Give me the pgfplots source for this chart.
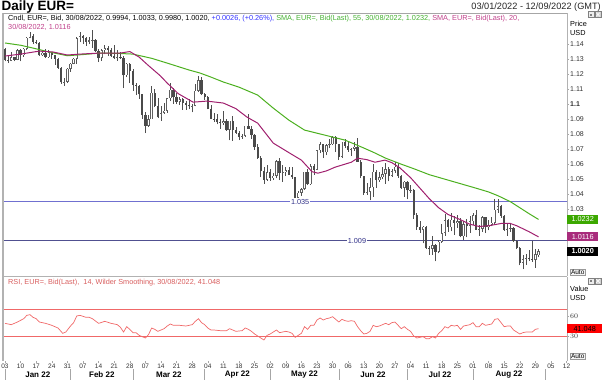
\documentclass[border=0pt]{standalone}
\usepackage{pgfplots}
\usepackage{pgfplotstable}
\pgfplotsset{compat=1.18}
\usepackage{fontspec}
\setmainfont{Liberation Sans}
\definecolor{wick}{HTML}{505050}
\definecolor{downbody}{HTML}{4A4A4A}
\definecolor{upedge}{HTML}{606060}
\definecolor{smagreen}{HTML}{4CB020}
\definecolor{smamag}{HTML}{A0206E}
\definecolor{hdrgreen}{HTML}{44B030}
\definecolor{hdrmag}{HTML}{C0408A}
\definecolor{hdrblue}{HTML}{3030FF}
\definecolor{lineA}{HTML}{7070D0}
\definecolor{lineB}{HTML}{505090}
\definecolor{labblue}{HTML}{303088}
\definecolor{rsired}{HTML}{F06868}
\definecolor{boxgreen}{HTML}{3CA800}
\definecolor{boxmag}{HTML}{A82C7C}

\pgfplotstableread{
x O H L C
0 1.1370 1.1376 1.1285 1.1297
1 1.1297 1.1323 1.1273 1.1289
2 1.1289 1.1347 1.1286 1.1312
3 1.1312 1.1316 1.1285 1.1296
4 1.1296 1.1364 1.1292 1.1360
5 1.1360 1.1365 1.1285 1.1326
6 1.1326 1.1375 1.1314 1.1368
7 1.1368 1.1446 1.1360 1.1442
8 1.1442 1.1482 1.1438 1.1456
9 1.1456 1.1465 1.1399 1.1412
10 1.1412 1.1428 1.1398 1.1408
11 1.1408 1.1412 1.1323 1.1325
12 1.1325 1.1359 1.1319 1.1343
13 1.1343 1.1369 1.1306 1.1313
14 1.1313 1.1363 1.1310 1.1345
15 1.1345 1.1349 1.1302 1.1326
16 1.1326 1.1330 1.1263 1.1302
17 1.1302 1.1310 1.1236 1.1241
18 1.1241 1.1245 1.1136 1.1145
19 1.1145 1.1175 1.1121 1.1150
20 1.1150 1.1240 1.1140 1.1235
21 1.1235 1.1273 1.1214 1.1270
22 1.1270 1.1306 1.1264 1.1302
23 1.1302 1.1450 1.1270 1.1439
24 1.1439 1.1483 1.1412 1.1452
25 1.1452 1.1460 1.1400 1.1441
26 1.1441 1.1448 1.1390 1.1416
27 1.1416 1.1449 1.1397 1.1424
28 1.1424 1.1495 1.1374 1.1430
29 1.1430 1.1433 1.1350 1.1352
30 1.1352 1.1365 1.1280 1.1307
31 1.1307 1.1368 1.1290 1.1358
32 1.1358 1.1395 1.1331 1.1372
33 1.1372 1.1390 1.1320 1.1360
34 1.1360 1.1376 1.1315 1.1322
35 1.1322 1.1395 1.1301 1.1307
36 1.1307 1.1361 1.1290 1.1312
37 1.1312 1.1345 1.1303 1.1309
38 1.1309 1.1323 1.1106 1.1191
39 1.1191 1.1274 1.1180 1.1269
40 1.1269 1.1275 1.1140 1.1219
41 1.1219 1.1233 1.1090 1.1126
42 1.1126 1.1142 1.1060 1.1121
43 1.1121 1.1127 1.1035 1.1065
44 1.1065 1.1068 1.0900 1.0926
45 1.0926 1.0950 1.0806 1.0855
46 1.0855 1.0930 1.0850 1.0900
47 1.0900 1.1121 1.0900 1.1077
48 1.1077 1.1100 1.0980 1.0985
49 1.0985 1.1043 1.0906 1.0912
50 1.0912 1.0990 1.0890 1.0941
51 1.0941 1.1010 1.0935 1.0957
52 1.0957 1.1040 1.0943 1.1038
53 1.1038 1.1138 1.1020 1.1095
54 1.1095 1.1110 1.1004 1.1050
55 1.1050 1.1071 1.0999 1.1016
56 1.1016 1.1046 1.0995 1.1031
57 1.1031 1.1040 1.0962 1.1006
58 1.1006 1.1020 1.0962 1.0996
59 1.0996 1.1037 1.0965 1.0985
60 1.0985 1.1003 1.0945 1.0990
61 1.0990 1.1137 1.0985 1.1088
62 1.1088 1.1185 1.1080 1.1160
63 1.1160 1.1183 1.1060 1.1067
64 1.1067 1.1076 1.1027 1.1046
65 1.1046 1.1054 1.0965 1.0970
66 1.0970 1.0992 1.0902 1.0904
67 1.0904 1.0940 1.0880 1.0900
68 1.0900 1.0935 1.0865 1.0880
69 1.0880 1.0900 1.0836 1.0876
70 1.0876 1.0954 1.0860 1.0886
71 1.0886 1.0901 1.0824 1.0828
72 1.0828 1.0890 1.0758 1.0889
73 1.0889 1.0924 1.0757 1.0829
74 1.0829 1.0845 1.0804 1.0810
75 1.0810 1.0822 1.0760 1.0780
76 1.0780 1.0800 1.0770 1.0787
77 1.0787 1.0857 1.0780 1.0855
78 1.0855 1.0936 1.0835 1.0836
79 1.0836 1.0851 1.0770 1.0796
80 1.0796 1.0800 1.0697 1.0714
81 1.0714 1.0737 1.0636 1.0640
82 1.0640 1.0657 1.0514 1.0557
83 1.0557 1.0580 1.0470 1.0497
84 1.0497 1.0593 1.0490 1.0545
85 1.0545 1.0565 1.0490 1.0507
86 1.0507 1.0540 1.0493 1.0524
87 1.0524 1.0625 1.0505 1.0620
88 1.0620 1.0641 1.0493 1.0541
89 1.0541 1.0592 1.0483 1.0548
90 1.0548 1.0580 1.0520 1.0560
91 1.0560 1.0580 1.0528 1.0530
92 1.0530 1.0578 1.0502 1.0512
93 1.0512 1.0515 1.0350 1.0378
94 1.0378 1.0423 1.0349 1.0411
95 1.0411 1.0440 1.0390 1.0435
96 1.0435 1.0550 1.0430 1.0550
97 1.0550 1.0565 1.0460 1.0467
98 1.0467 1.0600 1.0460 1.0586
99 1.0586 1.0600 1.0530 1.0563
100 1.0563 1.0697 1.0560 1.0692
101 1.0692 1.0749 1.0674 1.0733
102 1.0733 1.0737 1.0640 1.0678
103 1.0678 1.0737 1.0660 1.0726
104 1.0726 1.0765 1.0705 1.0733
105 1.0733 1.0787 1.0727 1.0779
106 1.0779 1.0786 1.0681 1.0734
107 1.0734 1.0737 1.0627 1.0648
108 1.0648 1.0750 1.0640 1.0749
109 1.0749 1.0765 1.0705 1.0720
110 1.0720 1.0752 1.0684 1.0695
111 1.0695 1.0710 1.0653 1.0704
112 1.0704 1.0749 1.0690 1.0716
113 1.0716 1.0774 1.0615 1.0616
114 1.0616 1.0630 1.0506 1.0519
115 1.0519 1.0520 1.0398 1.0408
116 1.0408 1.0476 1.0396 1.0417
117 1.0417 1.0506 1.0359 1.0447
118 1.0447 1.0601 1.0382 1.0550
119 1.0550 1.0563 1.0444 1.0493
120 1.0493 1.0546 1.0483 1.0512
121 1.0512 1.0582 1.0500 1.0535
122 1.0535 1.0606 1.0468 1.0567
123 1.0567 1.0578 1.0485 1.0521
124 1.0521 1.0571 1.0515 1.0554
125 1.0554 1.0615 1.0544 1.0583
126 1.0583 1.0606 1.0510 1.0521
127 1.0521 1.0530 1.0436 1.0441
128 1.0441 1.0487 1.0382 1.0484
129 1.0484 1.0486 1.0366 1.0425
130 1.0425 1.0463 1.0409 1.0430
131 1.0430 1.0435 1.0236 1.0264
132 1.0264 1.0276 1.0162 1.0182
133 1.0182 1.0220 1.0144 1.0162
134 1.0162 1.0186 1.0072 1.0183
135 1.0183 1.0187 1.0036 1.0040
136 1.0040 1.0055 0.9998 1.0035
137 1.0035 1.0122 0.9998 1.0060
138 1.0060 1.0068 0.9952 1.0018
139 1.0018 1.0097 1.0006 1.0083
140 1.0083 1.0199 1.0076 1.0142
141 1.0142 1.0269 1.0123 1.0226
142 1.0226 1.0238 1.0151 1.0180
143 1.0180 1.0278 1.0152 1.0230
144 1.0230 1.0258 1.0130 1.0211
145 1.0211 1.0259 1.0176 1.0222
146 1.0222 1.0239 1.0112 1.0120
147 1.0120 1.0219 1.0097 1.0199
148 1.0199 1.0234 1.0113 1.0190
149 1.0190 1.0254 1.0145 1.0220
150 1.0220 1.0275 1.0198 1.0260
151 1.0260 1.0294 1.0162 1.0164
152 1.0164 1.0198 1.0123 1.0170
153 1.0170 1.0254 1.0149 1.0246
154 1.0246 1.0250 1.0141 1.0180
155 1.0180 1.0230 1.0159 1.0196
156 1.0196 1.0248 1.0185 1.0211
157 1.0211 1.0368 1.0203 1.0298
158 1.0298 1.0365 1.0275 1.0322
159 1.0322 1.0330 1.0243 1.0258
160 1.0258 1.0264 1.0157 1.0162
161 1.0162 1.0202 1.0122 1.0170
162 1.0170 1.0202 1.0147 1.0177
163 1.0177 1.0180 1.0080 1.0088
164 1.0088 1.0096 1.0034 1.0040
165 1.0040 1.0050 0.9926 0.9943
166 0.9943 0.9992 0.9900 0.9968
167 0.9968 0.9999 0.9929 0.9975
168 0.9975 1.0027 0.9955 0.9971
169 0.9971 1.0090 0.9951 0.9964
170 0.9964 1.0034 0.9910 1.0000
171 0.9994 1.0033 0.9980 1.0020
}\candles

\newcommand{\hf}{\fontsize{7.3}{8}\selectfont}

\begin{document}
\begin{tikzpicture}
\useasboundingbox (0pt,0pt) rectangle (602pt,-380pt);

% ---------------- main price panel ----------------
\begin{axis}[
  at={(3pt,-276pt)}, anchor=south west,
  scale only axis, width=564pt, height=263pt,
  xmin=-0.64, xmax=180.13, ymin=0.98553, ymax=1.16067,
  axis x line=none, axis y line*=right,
  y axis line style={draw=gray!60, line width=0.6pt, -},
  ytick={1.03,1.04,1.05,1.06,1.07,1.08,1.09,1.1,1.11,1.12,1.13,1.14},
  yticklabels={1.03,1.04,1.05,1.06,1.07,1.08,1.09,\textbf{1.1},1.11,1.12,1.13,1.14},
  tick align=outside, major tick length=2pt,
  ytick style={draw=gray!70, line width=0.5pt},
  yticklabel style={font=\fontsize{7}{8}\selectfont, text=black!80, inner sep=1pt},
]
\addplot [lineA, line width=0.7pt] coordinates {(-1,1.035) (181,1.035)};
\addplot [lineB, line width=0.7pt] coordinates {(-1,1.009) (181,1.009)};

% wicks (low to high)
\addplot [draw=wick, line width=0.7pt, quiver={u=0, v=\thisrow{H}-\thisrow{L}}]
  table [x=x, y=L] {\candles};
% down bodies
\addplot [draw=downbody, line width=2.3pt, quiver={u=0, v=\thisrow{O}-\thisrow{C}},
  restrict expr to domain={\thisrow{O}-\thisrow{C}}{0.00001:1}]
  table [x=x, y=C] {\candles};
% up bodies: edge
\addplot [draw=upedge, line width=2.3pt, quiver={u=0, v=\thisrow{C}-\thisrow{O}},
  restrict expr to domain={\thisrow{C}-\thisrow{O}}{0:1}]
  table [x=x, y=O] {\candles};
% up bodies: white inside
\addplot [draw=white, line width=1.0pt, quiver={u=0, v=\thisrow{C}-\thisrow{O}-0.0008},
  restrict expr to domain={\thisrow{C}-\thisrow{O}}{0.001:1}]
  table [x=x, y expr=\thisrow{O}+0.0004] {\candles};

% SMA 55
\addplot [smagreen, line width=1pt] coordinates {
(0,1.1407) (5,1.1392) (9,1.1373) (14,1.1348) (20,1.1322) (25,1.1330) (30.5,1.1340) (36,1.1338)
(41,1.1333) (47,1.1305) (52,1.1273) (59,1.1227) (62.5,1.1207) (66,1.1180) (70,1.1147) (75,1.1113)
(81,1.1060) (86,1.0973) (91,1.0893) (96,1.0827) (102.6,1.0793) (109,1.0760) (114.4,1.0713)
(118,1.0680) (122,1.0640) (127,1.0600) (131,1.0570) (136,1.0530) (141,1.0500) (146,1.0470)
(151,1.0440) (155,1.0415) (158,1.0390) (162,1.0350) (165,1.0310) (168,1.0270) (171,1.0232)};
% SMA 20
\addplot [smamag, line width=1pt] coordinates {
(0,1.1320) (5,1.1333) (11,1.1353) (15.4,1.1347) (20,1.1327) (24,1.1333) (30.5,1.1340) (37,1.1340)
(40,1.1350) (43,1.1313) (45.8,1.1260) (49.7,1.1190) (52,1.1140) (55.5,1.1070) (60.3,1.1013)
(64.7,1.1020) (70,1.1007) (74,1.0970) (77.6,1.0913) (81,1.0873) (86,1.0740) (91.3,1.0673)
(95,1.0627) (98.4,1.0550) (100.3,1.0540) (103,1.0555) (105.8,1.0580) (111,1.0613) (113,1.0640)
(116,1.0630) (118.6,1.0613) (121.8,1.0627) (124,1.0610) (126.6,1.0575) (130,1.0510) (133,1.0440)
(136,1.0370) (139,1.0310) (142,1.0265) (146,1.0230) (149,1.0200) (152,1.0185) (155,1.0190)
(159,1.0205) (162,1.0205) (164,1.0190) (166,1.0170) (168,1.0150) (171,1.0116)};

\node [fill=white, text=labblue, inner sep=1pt, font=\hf] at (axis cs:94.6,1.035) {1.035};
\node [fill=white, text=labblue, inner sep=1pt, font=\hf] at (axis cs:112.8,1.009) {1.009};
\end{axis}

% ---------------- RSI panel ----------------
\begin{axis}[
  at={(3pt,-361pt)}, anchor=south west,
  scale only axis, width=564pt, height=84pt,
  xmin=-0.64, xmax=180.13, ymin=-7.5, ymax=118.5,
  axis x line*=bottom, axis y line*=right,
  x axis line style={draw=none},
  y axis line style={draw=gray!60, line width=0.6pt, -},
  xtick={0,5,...,180},
  xticklabels={03,10,17,24,31,07,14,21,28,07,14,21,28,04,11,18,25,02,09,16,23,30,06,13,20,27,04,11,18,25,01,08,15,22,29,05,12},
  ytick={30,60},
  tick align=outside, major tick length=2pt,
  tick style={draw=gray!70, line width=0.5pt},
  yticklabel style={font=\fontsize{7}{8}\selectfont, text=black!80, inner sep=1pt},
  xticklabel style={font=\fontsize{6.5}{7}\selectfont, text=black!80, inner sep=1pt},
]
\addplot [rsired, line width=0.7pt] coordinates {(-1,70) (181,70)};
\addplot [rsired, line width=0.7pt] coordinates {(-1,30) (181,30)};
\addplot [rsired, line width=0.7pt] coordinates {
(0,49) (2,47) (4,51) (6,56) (7,61) (8,62) (9,58) (10,56) (11,51) (13,49) (15,46) (17,42) (18.5,34)
(19.5,36) (21,45) (22,50) (23,60) (24,61) (26,58) (27,58) (28,56) (30,49) (32,52) (34,49) (36,47)
(37,43) (38,36) (39,44) (40,40) (41,35) (42,35) (43,31) (44,29) (45,27) (46,32) (47,42) (48,40)
(49,37) (50,39) (51,41) (52,45) (53,48) (54,46) (56,46) (58,45) (60,47) (61,52) (62,56) (63,50)
(64,47) (65,42) (66,39) (67,39) (69,38) (71,38) (72,41) (73,39) (74,37) (76,38) (77,42) (78,40)
(79,37) (80,33) (81,30) (82,27) (83,24) (84,31) (85,33) (86,36) (87,39) (88,35) (89,36) (90,37)
(91,36) (92,34) (93,28) (94,31) (95,34) (96,44) (97,40) (98,46) (99,46) (100,54) (101,57) (102,54)
(103,56) (104,57) (105,59) (106,55) (107,51) (108,55) (109,53) (110,52) (111,53) (112,52) (113,44)
(114,38) (115,33) (116,34) (117,37) (118,46) (119,44) (120,45) (121,47) (122,49) (123,47) (124,50)
(125,51) (126,46) (127,41) (128,44) (129,40) (130,37) (131,30) (132,27) (133,28) (134,29) (135,26)
(136,26) (137,29) (138,27) (139,34) (140,38) (141,44) (142,42) (143,46) (144,45) (145,46) (146,40)
(147,45) (148,46) (149,47) (150,50) (151,44) (152,44) (153,49) (154,46) (155,47) (156,48) (157,55)
(158,56) (159,50) (160,44) (161,45) (162,45) (163,39) (164,36) (165,33) (166,35) (167,36) (168,36)
(169,36) (170,40) (171,41.048)};
\end{axis}

% ---------------- frame ----------------
\draw [gray!60, line width=1.5pt] (3pt,-13pt) -- (3pt,-361pt);
\draw [gray!70, line width=0.6pt] (3pt,-13pt) -- (567pt,-13pt);
\draw [gray!60, line width=0.8pt] (3pt,-276.5pt) -- (567pt,-276.5pt);

% ---------------- texts ----------------
\node [anchor=west, inner sep=0pt, font=\fontsize{13.5}{14}\selectfont\bfseries] at (1.5pt,-7pt) {Daily EUR=};
\node [anchor=east, inner sep=0pt, font=\fontsize{9.2}{10}\selectfont, text=black!85] at (601pt,-7pt) {03/01/2022 - 12/09/2022 (GMT)};
\node [anchor=west, inner sep=0pt, font=\hf] at (8pt,-18.5pt) {Cndl, EUR=, Bid, 30/08/2022, 0.9994, 1.0033, 0.9980, 1.0020, \textcolor{hdrblue}{+0.0026, (+0.26\%),} \textcolor{hdrgreen}{SMA, EUR=, Bid(Last), 55, 30/08/2022, 1.0232,} \textcolor{hdrmag}{SMA, EUR=, Bid(Last), 20,}};
\node [anchor=west, inner sep=0pt, font=\hf, text=hdrmag] at (8pt,-27.5pt) {30/08/2022, 1.0116};
\node [anchor=west, inner sep=0pt, font=\hf, text=rsired!90!black] at (8pt,-283pt) {RSI, EUR=, Bid(Last),\ \ 14, Wilder Smoothing, 30/08/2022, 41.048};

\node [anchor=west, inner sep=0pt, font=\hf] at (570pt,-24pt) {Price};
\node [anchor=west, inner sep=0pt, font=\hf] at (570pt,-33pt) {USD};
\node [anchor=west, inner sep=0pt, font=\hf] at (570pt,-289pt) {Value};
\node [anchor=west, inner sep=0pt, font=\hf] at (570pt,-298pt) {USD};

% icons
\draw [gray, fill=gray!15, line width=0.4pt] (588pt,-11.5pt) rectangle (594pt,-17.5pt);
\fill [gray] (590pt,-13.5pt) rectangle (592pt,-15.5pt);
\draw [gray, fill=gray!35, line width=0.4pt] (595pt,-11.5pt) rectangle (601pt,-17.5pt);
\draw [white, line width=0.6pt] (596pt,-12.5pt) -- (600pt,-16.5pt) (596pt,-16.5pt) -- (600pt,-12.5pt);
\draw [gray, fill=gray!15, line width=0.4pt] (588pt,-278pt) rectangle (594pt,-284pt);
\fill [gray] (590pt,-280pt) rectangle (592pt,-282pt);
\draw [gray, fill=gray!35, line width=0.4pt] (595pt,-278pt) rectangle (601pt,-284pt);
\draw [white, line width=0.6pt] (596pt,-279pt) -- (600pt,-283pt) (596pt,-283pt) -- (600pt,-279pt);

% Auto boxes
\node [draw=gray!80, fill=gray!8, anchor=west, inner sep=0.8pt, font=\fontsize{6.5}{7}\selectfont] at (570pt,-272.5pt) {Auto};
\node [draw=gray!80, fill=gray!8, anchor=west, inner sep=0.8pt, font=\fontsize{6.5}{7}\selectfont] at (570pt,-356pt) {Auto};

% value boxes
\node [fill=boxgreen, text=white, anchor=west, inner sep=0pt, minimum height=9pt, minimum width=31pt, font=\hf] at (567pt,-219pt) {1.0232};
\node [fill=boxmag, text=white, anchor=west, inner sep=0pt, minimum height=9pt, minimum width=31pt, font=\hf] at (567pt,-236.6pt) {1.0116};
\node [fill=black, text=white, anchor=west, inner sep=0pt, minimum height=9pt, minimum width=31pt, font=\hf\bfseries] at (567pt,-251pt) {1.0020};
\node [fill=red, text=black, anchor=west, inner sep=0pt, minimum height=9pt, minimum width=35pt, font=\hf] at (567pt,-328.6pt) {41.048};

% month row
\foreach \xx in {5,70.5,133,204.7,270.2,338.8,407.5,473,544.8} {
  \draw [gray!70, line width=0.6pt] (\xx pt,-369pt) -- (\xx pt,-380pt);
}
\foreach \xx/\mm in {37.8/Jan 22,101.8/Feb 22,168.8/Mar 22,237.4/Apr 22,304.5/May 22,373/Jun 22,440/Jul 22,509/Aug 22} {
  \node [inner sep=0pt, font=\fontsize{8}{9}\selectfont\bfseries] at (\xx pt,-375pt) {\mm};
}
\end{tikzpicture}
\end{document}
